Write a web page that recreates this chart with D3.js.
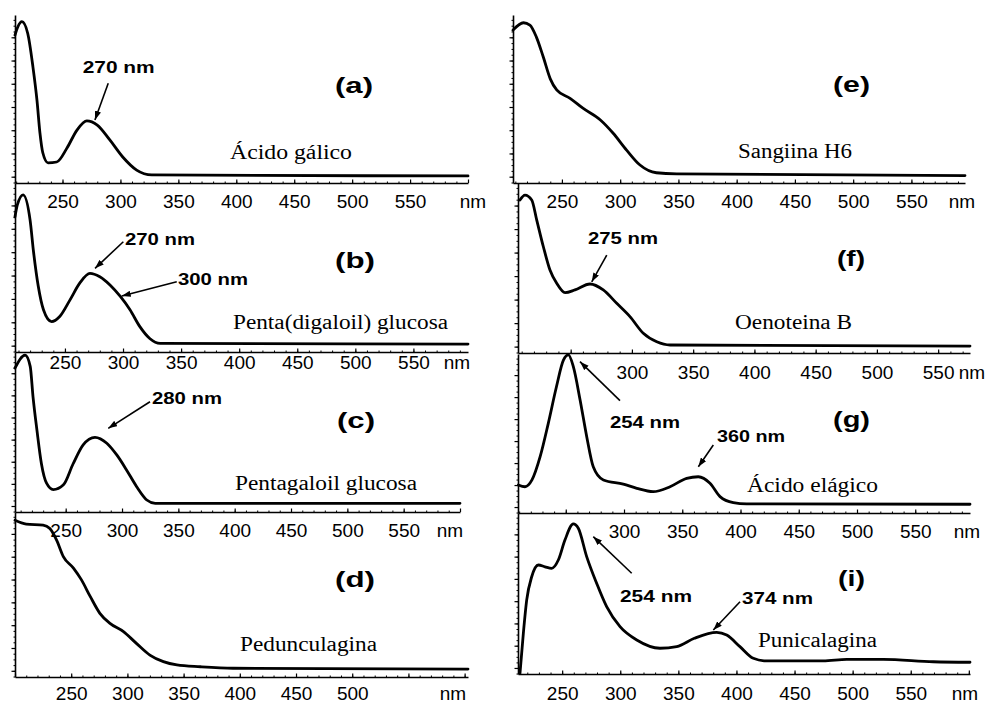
<!DOCTYPE html>
<html>
<head>
<meta charset="utf-8">
<script src="https://cdn.jsdelivr.net/npm/d3@7"></script>
<style>
  body { margin: 0; background: #fff; }
</style>
</head>
<body>
<div id="chart"></div>
<script>
// UV-vis spectra, wavelength (nm) and relative absorbance
var galicoNm  = [209, 211.5, 215, 220, 224.5, 228, 230.5, 233, 237.5, 245, 254, 262.5, 271, 280, 291, 302, 314, 327, 600];
var galicoAbs = [0.88, 0.93, 0.96, 0.89, 0.69, 0.49, 0.30, 0.18, 0.12, 0.125, 0.21, 0.315, 0.37, 0.345, 0.255, 0.155, 0.077, 0.048, 0.042];

var digaloilNm  = [207, 209, 214, 220, 223, 227, 231.5, 238.5, 245.5, 254.5, 263, 271.5, 280, 289, 297.5, 306, 314.5, 323, 332, 597];
var digaloilAbs = [0.80, 0.87, 0.93, 0.78, 0.59, 0.39, 0.25, 0.18, 0.21, 0.31, 0.41, 0.465, 0.445, 0.395, 0.33, 0.25, 0.15, 0.08, 0.051, 0.047];

var pentagaloilNm  = [205, 214, 218.5, 221, 224.5, 228.5, 233, 239, 248, 256.5, 265.5, 276, 286.5, 295.5, 304, 313, 322, 329.5, 600];
var pentagaloilAbs = [0.90, 0.98, 0.91, 0.72, 0.51, 0.30, 0.18, 0.14, 0.17, 0.30, 0.42, 0.467, 0.43, 0.355, 0.263, 0.158, 0.075, 0.054, 0.054];

var pedunculaginaNm  = [200, 210, 225, 231, 237, 243, 252, 259, 267, 275.5, 284.5, 296.5, 308, 320, 332, 344, 365, 394, 603];
var pedunculaginaAbs = [0.95, 0.927, 0.921, 0.90, 0.83, 0.73, 0.66, 0.59, 0.487, 0.386, 0.325, 0.275, 0.204, 0.133, 0.093, 0.073, 0.062, 0.053, 0.048];

var sangiinaNm  = [208, 217, 222.5, 228, 234, 240, 245.5, 257, 268, 283, 294, 305.5, 317, 331, 348.5, 596];
var sangiinaAbs = [0.91, 0.954, 0.94, 0.87, 0.75, 0.62, 0.554, 0.504, 0.445, 0.375, 0.296, 0.196, 0.107, 0.061, 0.054, 0.044];

var oenoteinaNm  = [208.6, 212.7, 218.2, 222.3, 227.7, 233.1, 238.6, 245.4, 253.5, 265.8, 276.6, 287.6, 298.4, 309.3, 320.3, 331.1, 576];
var oenoteinaAbs = [0.90, 0.929, 0.90, 0.782, 0.625, 0.488, 0.41, 0.355, 0.371, 0.406, 0.371, 0.292, 0.214, 0.116, 0.066, 0.047, 0.041];

var elagicoNm  = [209.3, 215, 221, 228, 235, 242, 248, 252.3, 256.5, 262.3, 268, 273.6, 282.3, 299.4, 311, 325, 339.5, 353.8, 363.8, 373.8, 382.4, 393.8, 405.3, 597];
var elagicoAbs = [0.176, 0.165, 0.208, 0.354, 0.564, 0.794, 0.962, 0.994, 0.92, 0.711, 0.48, 0.291, 0.208, 0.182, 0.155, 0.134, 0.165, 0.218, 0.228, 0.187, 0.103, 0.065, 0.057, 0.055];

var punicalaginaNm  = [213.7, 216.6, 219.5, 223.8, 229.5, 235.2, 241, 246.7, 252.4, 259.6, 263.9, 271.1, 279.7, 288.3, 299.8, 314.2, 334.2, 348.6, 363.8, 383, 391.6, 403, 414.5, 426, 474.7, 494.9, 526.4, 569.4, 601];
var punicalaginaAbs = [0.004, 0.253, 0.46, 0.604, 0.677, 0.666, 0.656, 0.708, 0.832, 0.932, 0.905, 0.729, 0.563, 0.418, 0.294, 0.211, 0.16, 0.17, 0.222, 0.259, 0.242, 0.17, 0.098, 0.081, 0.081, 0.091, 0.091, 0.076, 0.073];

// tick labels
var xMajor = [200, 250, 300, 350, 400, 450, 500, 550, 600];
var labelsFull = [250, 300, 350, 400, 450, 500, 550];
var labelsTo500 = [250, 300, 350, 400, 450, 500];
var labelsFrom300 = [300, 350, 400, 450, 500, 550];

var panels = [
  { letter: "(a)", name: "Ácido gálico", nm: galicoNm, abs: galicoAbs,
    x0: 15, x1: 468, top: 15, bottom: 183, domain: [209, 600], labels: labelsFull, gap: 25, nmX: 473,
    letterAt: [335, 93, 38], nameAt: [230, 159, 122],
    notes: [{ text: "270 nm", at: [82.7, 73.3, 72], tip: [278, 0.375], tail: [13.3, -36.7] }] },
  { letter: "(b)", name: "Penta(digaloil) glucosa", nm: digaloilNm, abs: digaloilAbs,
    x0: 15, x1: 468, top: 183, bottom: 352, domain: [207, 597], labels: labelsFull, gap: 17, nmX: 457,
    letterAt: [335, 268, 40], nameAt: [233, 329.3, 215],
    notes: [{ text: "270 nm", at: [125, 245, 70], tip: [275.9, 0.495], tail: [28.3, -26.6] },
            { text: "300 nm", at: [178, 285, 70], tip: [298.9, 0.331], tail: [55, -14.3] }] },
  { letter: "(c)", name: "Pentagaloil glucosa", nm: pentagaloilNm, abs: pentagaloilAbs,
    x0: 15, x1: 460, top: 352, bottom: 512, domain: [205, 600], labels: labelsFull, gap: 24.7, nmX: 450,
    letterAt: [337, 428, 38], nameAt: [235, 490, 182],
    notes: [{ text: "280 nm", at: [152, 404, 70], tip: [287.8, 0.523], tail: [41.7, -26.6] }] },
  { letter: "(d)", name: "Pedunculagina", nm: pedunculaginaNm, abs: pedunculaginaAbs,
    x0: 15, x1: 468, top: 512, bottom: 677, domain: [200, 603], labels: labelsTo500, gap: 23, nmX: 453,
    letterAt: [335, 587, 40], nameAt: [240, 650.7, 137], notes: [] },
  { letter: "(e)", name: "Sangiina H6", nm: sangiinaNm, abs: sangiinaAbs,
    x0: 513, x1: 965, top: 15, bottom: 183, domain: [208, 596], labels: labelsFull, gap: 25, nmX: 962,
    letterAt: [833, 92, 37], nameAt: [738, 158.3, 114], notes: [] },
  { letter: "(f)", name: "Oenoteina B", nm: oenoteinaNm, abs: oenoteinaAbs,
    x0: 518, x1: 970, top: 183, bottom: 353, domain: [207, 576], labels: labelsFrom300, gap: 26, nmX: 972,
    letterAt: [837, 266, 28], nameAt: [735, 329.3, 117],
    notes: [{ text: "275 nm", at: [588, 244, 70], tip: [267.2, 0.419], tail: [15, -26.7] }] },
  { letter: "(g)", name: "Ácido elágico", nm: elagicoNm, abs: elagicoAbs,
    x0: 518, x1: 970, top: 354, bottom: 513, domain: [209, 597], labels: labelsFrom300, gap: 25, nmX: 967,
    letterAt: [833, 427, 37], nameAt: [747, 491.7, 131],
    notes: [{ text: "254 nm", at: [610, 428.3, 70], tip: [262.2, 0.952], tail: [40, 39] },
            { text: "360 nm", at: [717, 441.7, 68], tip: [363.8, 0.291], tail: [15, -21.7] }] },
  { letter: "(i)", name: "Punicalagina", nm: punicalaginaNm, abs: punicalaginaAbs,
    x0: 518, x1: 970, top: 513, bottom: 674, domain: [212, 601], labels: labelsFull, gap: 26, nmX: 965,
    letterAt: [838, 586, 27], nameAt: [758, 646.7, 119],
    notes: [{ text: "254 nm", at: [620, 601.7, 72], tip: [276.8, 0.853], tail: [38.4, 36.6] },
            { text: "374 nm", at: [742, 604.3, 71], tip: [380.1, 0.273], tail: [26.7, -28.3] }] }
];

var sans = "'Liberation Sans', Arial, sans-serif";
var serif = "'Liberation Serif', 'Times New Roman', serif";
var labelSize = 19;

var svg = d3.select("#chart").append("svg")
    .attr("width", 992)
    .attr("height", 704)
    .style("background", "#fff");

svg.append("defs").append("marker")
    .attr("id", "head")
    .attr("viewBox", "0 0 10 7")
    .attr("refX", 10).attr("refY", 3.5)
    .attr("markerWidth", 9).attr("markerHeight", 6.5)
    .attr("markerUnits", "userSpaceOnUse")
    .attr("orient", "auto")
    .append("path").attr("d", "M0,0L10,3.5L0,7Z").attr("fill", "#000");

// y ticks are unlabeled, same spacing in every panel
var yStep = 0.1383;
var yMajor = d3.range(0.0375, 1.0, yStep);
var yMinor = d3.range(0.0029, 1.0, yStep / 4);

panels.forEach(function (p) {
    var x = d3.scaleLinear().domain(p.domain).range([p.x0, p.x1]);
    var y = d3.scaleLinear().domain([0, 1]).range([p.bottom, p.top]);
    var g = svg.append("g");

    var majors = xMajor.filter(function (d) { return d >= p.domain[0] && d <= p.domain[1]; });
    var minors = d3.range(Math.ceil(p.domain[0] / 10) * 10, p.domain[1] + 0.1, 10);

    // x minor ticks (inward)
    g.append("g")
        .attr("transform", "translate(0," + p.bottom + ")")
        .call(d3.axisBottom(x).tickValues(minors).tickSize(-1.5).tickSizeOuter(0).tickFormat(""))
        .call(function (s) { s.select(".domain").remove(); });

    // x major ticks and labels
    var xa = g.append("g")
        .attr("transform", "translate(0," + p.bottom + ")")
        .call(d3.axisBottom(x).tickValues(majors).tickSize(-3.5).tickSizeOuter(0)
            .tickPadding(p.gap - 0.71 * labelSize)
            .tickFormat(function (d) { return p.labels.indexOf(d) >= 0 ? d : ""; }))
        .attr("font-family", sans)
        .attr("font-size", labelSize);
    xa.select(".domain").attr("stroke-width", 1.6);
    xa.selectAll(".tick line").attr("stroke-width", 1.2);

    g.append("text")
        .attr("x", p.nmX)
        .attr("y", p.bottom + p.gap)
        .attr("text-anchor", "middle")
        .attr("font-family", sans)
        .attr("font-size", labelSize)
        .text("nm");

    // y axis, no labels
    g.append("g")
        .attr("transform", "translate(" + p.x0 + ",0)")
        .call(d3.axisLeft(y).tickValues(yMinor).tickSize(1.5).tickSizeOuter(0).tickFormat(""))
        .call(function (s) { s.select(".domain").remove(); });
    var ya = g.append("g")
        .attr("transform", "translate(" + p.x0 + ",0)")
        .call(d3.axisLeft(y).tickValues(yMajor).tickSize(3.5).tickSizeOuter(0).tickFormat(""));
    ya.select(".domain").attr("stroke-width", 1.6);
    ya.selectAll(".tick line").attr("stroke-width", 1.2);

    // spectrum
    g.append("path")
        .datum(d3.zip(p.nm, p.abs))
        .attr("fill", "none")
        .attr("stroke", "#000")
        .attr("stroke-width", 2.8)
        .attr("stroke-linejoin", "round")
        .attr("stroke-linecap", "round")
        .attr("d", d3.line()
            .curve(d3.curveMonotoneX)
            .x(function (d) { return x(d[0]); })
            .y(function (d) { return y(d[1]); }));

    // panel letter
    g.append("text")
        .attr("x", p.letterAt[0]).attr("y", p.letterAt[1])
        .attr("font-family", sans).attr("font-weight", "bold").attr("font-size", 22)
        .attr("textLength", p.letterAt[2]).attr("lengthAdjust", "spacingAndGlyphs")
        .text(p.letter);

    // compound name
    g.append("text")
        .attr("x", p.nameAt[0]).attr("y", p.nameAt[1])
        .attr("font-family", serif).attr("font-size", 20)
        .attr("textLength", p.nameAt[2]).attr("lengthAdjust", "spacingAndGlyphs")
        .text(p.name);

    // peak annotations
    p.notes.forEach(function (n) {
        var tx = x(n.tip[0]), ty = y(n.tip[1]);
        g.append("line")
            .attr("x1", tx + n.tail[0]).attr("y1", ty + n.tail[1])
            .attr("x2", tx).attr("y2", ty)
            .attr("stroke", "#000")
            .attr("stroke-width", 1.6)
            .attr("marker-end", "url(#head)");
        g.append("text")
            .attr("x", n.at[0]).attr("y", n.at[1])
            .attr("font-family", sans).attr("font-weight", "bold").attr("font-size", 16)
            .attr("textLength", n.at[2]).attr("lengthAdjust", "spacingAndGlyphs")
            .text(n.text);
    });
});
</script>
</body>
</html>
